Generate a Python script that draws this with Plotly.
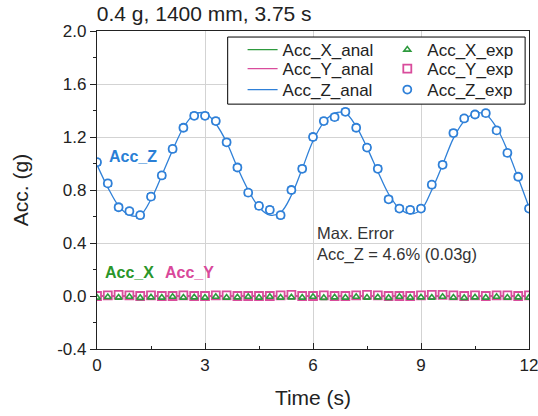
import plotly.graph_objects as go

# ---- data ----
time_s = [0.0, 0.3, 0.6, 0.9, 1.2, 1.5, 1.8, 2.1, 2.4, 2.7, 3.0, 3.3, 3.6, 3.9,
          4.2, 4.5, 4.8, 5.1, 5.4, 5.7, 6.0, 6.3, 6.6, 6.9, 7.2, 7.5, 7.8, 8.1,
          8.4, 8.7, 9.0, 9.3, 9.6, 9.9, 10.2, 10.5, 10.8, 11.1, 11.4, 11.7, 12.0]

acc_z_anal = [0.99, 0.82, 0.68, 0.61, 0.61, 0.73, 0.91, 1.10, 1.27, 1.37, 1.38, 1.30, 1.16, 0.97,
              0.80, 0.67, 0.61, 0.63, 0.76, 0.96, 1.17, 1.31, 1.38, 1.38, 1.28, 1.12, 0.94, 0.77,
              0.66, 0.62, 0.65, 0.80, 0.99, 1.19, 1.32, 1.38, 1.37, 1.27, 1.10, 0.89, 0.67]
acc_z_exp = [1.01, 0.85, 0.67, 0.64, 0.61, 0.75, 0.91, 1.11, 1.27, 1.36, 1.36, 1.32, 1.16, 0.97,
             0.78, 0.68, 0.65, 0.61, 0.80, 0.96, 1.20, 1.32, 1.35, 1.39, 1.27, 1.12, 0.96, 0.73,
             0.66, 0.65, 0.66, 0.84, 0.99, 1.23, 1.34, 1.37, 1.38, 1.25, 1.08, 0.90, 0.66]

acc_x_anal = [0.0] * len(time_s)
acc_y_anal = [0.0] * len(time_s)
acc_x_exp = [-0.012, -0.008, -0.012, -0.006, -0.014, -0.010, -0.012, -0.006, -0.012, -0.010, -0.012,
             -0.006, -0.012, -0.010, -0.006, -0.012, -0.006, -0.012, -0.010, -0.012, -0.006, -0.014,
             -0.010, -0.012, -0.006, -0.012, -0.010, -0.014, -0.006, -0.012, -0.010, -0.012, -0.006,
             -0.012, -0.014, -0.010, -0.012, -0.006, -0.012, -0.010, -0.012]
acc_y_exp = [0.000, 0.005, 0.008, 0.005, 0.000, 0.005, 0.000, 0.000, 0.005, 0.000, 0.000, 0.005,
             0.005, 0.000, 0.000, 0.000, 0.000, 0.005, 0.008, 0.000, 0.000, 0.005, 0.000, 0.000,
             0.005, 0.008, 0.005, 0.000, 0.000, 0.000, 0.005, 0.008, 0.008, 0.005, 0.000, 0.005,
             0.000, 0.005, 0.005, 0.000, 0.005]

x_ticks = [0, 3, 6, 9, 12]
y_ticks = [-0.4, 0.0, 0.4, 0.8, 1.2, 1.6, 2.0]
y_tick_text = ["-0.4", "0.0", "0.4", "0.8", "1.2", "1.6", "2.0"]

GREEN = "#2e9a3e"
PINK = "#d94c9c"
BLUE = "#2f80d8"
FONT = "Liberation Sans, Arial, sans-serif"
TXT = "#222222"

fig = go.Figure()

fig.add_trace(go.Scatter(x=time_s, y=acc_x_anal, mode="lines", name="Acc_X_anal",
                         line=dict(color=GREEN, width=1.3), legend="legend"))
fig.add_trace(go.Scatter(x=time_s, y=acc_y_anal, mode="lines", name="Acc_Y_anal",
                         line=dict(color=PINK, width=1.3), legend="legend2"))
fig.add_trace(go.Scatter(x=time_s, y=acc_z_anal, mode="lines", name="Acc_Z_anal",
                         line=dict(color=BLUE, width=1.3, shape="spline", smoothing=1.0),
                         legend="legend3"))

fig.add_trace(go.Scatter(x=time_s, y=acc_y_exp, mode="markers", name="Acc_Y_exp",
                         marker=dict(symbol="square", size=8, color="white",
                                     line=dict(width=1.8, color=PINK)),
                         legend="legend5"))
fig.add_trace(go.Scatter(x=time_s, y=acc_x_exp, mode="markers", name="Acc_X_exp",
                         marker=dict(symbol="triangle-up-open", size=6, color=GREEN,
                                     line=dict(width=1.6)),
                         legend="legend4"))
fig.add_trace(go.Scatter(x=time_s, y=acc_z_exp, mode="markers", name="Acc_Z_exp",
                         marker=dict(symbol="circle", size=8, color="white",
                                     line=dict(width=1.8, color=BLUE)),
                         error_y=dict(type="constant", value=0.022, color=BLUE,
                                      thickness=1.2, width=4),
                         legend="legend6"))

# legend box
fig.add_shape(type="rect", xref="paper", yref="paper",
              x0=0.3025, x1=0.991, y0=0.770, y1=0.981,
              line=dict(color="black", width=1), fillcolor="white", layer="above")

annots = [
    dict(x=0.28, y=1.05, text="<b>Acc_Z</b>", font=dict(color="#2a7fd6", size=16)),
    dict(x=0.17, y=0.175, text="<b>Acc_X</b>", font=dict(color="#2a962a", size=16)),
    dict(x=1.83, y=0.175, text="<b>Acc_Y</b>", font=dict(color="#d9489a", size=16)),
    dict(x=6.05, y=0.475, text="Max. Error", font=dict(color="#333333", size=16.5)),
    dict(x=6.05, y=0.315, text="Acc_Z = 4.6% (0.03g)", font=dict(color="#333333", size=16.5)),
]
for a in annots:
    fig.add_annotation(x=a["x"], y=a["y"], text=a["text"], showarrow=False,
                       xanchor="left", yanchor="middle",
                       font=dict(family=FONT, **a["font"]))

leg_common = dict(xanchor="left", yanchor="middle",
                  bgcolor="rgba(0,0,0,0)", borderwidth=0,
                  font=dict(family=FONT, size=17, color=TXT),
                  itemwidth=30, tracegroupgap=0)
row_y = [0.940, 0.8805, 0.8145]
col_x = [0.337, 0.672]

fig.update_layout(
    width=538, height=416,
    margin=dict(l=97, r=9, t=31, b=67),
    paper_bgcolor="white", plot_bgcolor="white",
    font=dict(family=FONT, color=TXT),
    title=dict(text="0.4 g, 1400 mm, 3.75 s", x=0.18, xanchor="left",
               y=0.966, yanchor="middle",
               font=dict(family=FONT, size=21, color=TXT)),
    showlegend=True,
    legend=dict(x=col_x[0], y=row_y[0], **leg_common),
    legend2=dict(x=col_x[0], y=row_y[1], **leg_common),
    legend3=dict(x=col_x[0], y=row_y[2], **leg_common),
    legend4=dict(x=col_x[1], y=row_y[0], **leg_common),
    legend5=dict(x=col_x[1], y=row_y[1], **leg_common),
    legend6=dict(x=col_x[1], y=row_y[2], **leg_common),
)

fig.update_xaxes(
    range=[0, 12], tickvals=x_ticks, ticktext=[str(v) for v in x_ticks],
    showgrid=True, gridcolor="#d3d3d3", gridwidth=1,
    showline=True, linecolor=TXT, linewidth=1.2, mirror=True,
    ticks="inside", ticklen=6, tickcolor=TXT,
    minor=dict(dtick=1.5, ticks="inside", ticklen=3, tickcolor=TXT, showgrid=False),
    tickfont=dict(family=FONT, size=17, color=TXT),
    ticklabeloverflow="allow", automargin=False,
    title=dict(text="Time (s)", font=dict(family=FONT, size=21, color=TXT), standoff=16),
    zeroline=False,
)
fig.update_yaxes(
    range=[-0.4, 2.0], tickvals=y_ticks, ticktext=y_tick_text,
    showgrid=True, gridcolor="#d3d3d3", gridwidth=1,
    showline=True, linecolor=TXT, linewidth=1.2, mirror=True,
    ticks="outside", ticklen=6, tickcolor=TXT,
    minor=dict(dtick=0.2, ticks="outside", ticklen=3, tickcolor=TXT, showgrid=False),
    tickfont=dict(family=FONT, size=17, color=TXT),
    automargin=False,
    title=dict(text="Acc. (g)", font=dict(family=FONT, size=21, color=TXT), standoff=22),
    zeroline=False,
)

fig.write_html("out.html")
